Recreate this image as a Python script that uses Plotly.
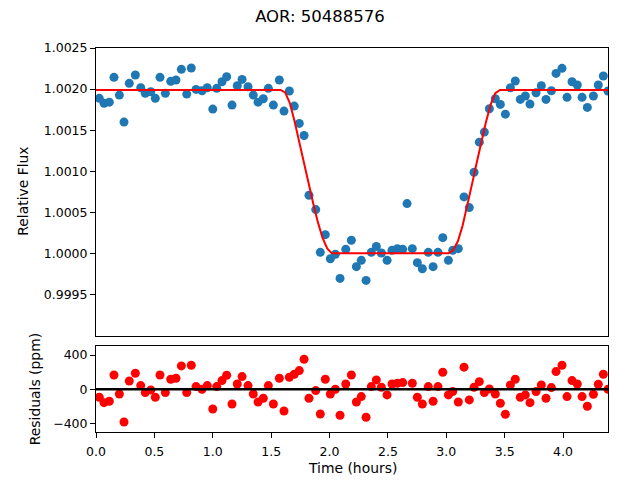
import plotly.graph_objects as go

# ---------------- data ----------------
time_hr = [0.028, 0.069, 0.114, 0.154, 0.200, 0.240, 0.285, 0.337, 0.383, 0.422,
           0.469, 0.508, 0.548, 0.594, 0.640, 0.685, 0.731, 0.777, 0.816, 0.857,
           0.908, 0.953, 1.000, 1.034, 1.079, 1.119, 1.165, 1.210, 1.251, 1.302,
           1.347, 1.388, 1.433, 1.476, 1.519, 1.570, 1.610, 1.656, 1.698, 1.741,
           1.782, 1.824, 1.882, 1.921, 1.964, 2.007, 2.050, 2.090, 2.139, 2.187,
           2.230, 2.272, 2.313, 2.358, 2.401, 2.444, 2.493, 2.535, 2.581, 2.627,
           2.664, 2.709, 2.752, 2.795, 2.846, 2.887, 2.929, 2.970, 3.018, 3.055,
           3.103, 3.152, 3.197, 3.238, 3.283, 3.326, 3.369, 3.420, 3.463, 3.506,
           3.549, 3.591, 3.634, 3.677, 3.717, 3.769, 3.814, 3.854, 3.900, 3.940,
           3.991, 4.034, 4.077, 4.122, 4.163, 4.208, 4.260, 4.302, 4.345, 4.385]

flux = [1.001887, 1.001826, 1.001841, 1.002143, 1.001927, 1.001598, 1.002070, 1.002171, 1.002016, 1.001948,
        1.001967, 1.001887, 1.002143, 1.001948, 1.002094, 1.002110, 1.002240, 1.001939, 1.002256, 1.001996,
        1.001979, 1.002016, 1.001756, 1.002009, 1.002089, 1.002150, 1.001805, 1.002040, 1.002118, 1.002028,
        1.001927, 1.001841, 1.001882, 1.002009, 1.001805, 1.002110, 1.001732, 1.001976, 1.001793, 1.001582,
        1.001435, 1.000707, 1.000533, 1.000012, 1.000228, 0.999935, 0.999988, 0.999695, 1.000049, 1.000159,
        0.999838, 0.999915, 0.999671, 1.000012, 1.000085, 1.000004, 0.999915, 1.000037, 1.000057, 1.000049,
        1.000606, 1.000057, 0.999887, 0.999813, 1.000012, 0.999838, 1.000012, 1.000191, 0.999915, 1.000037,
        1.000057, 1.000687, 1.000557, 1.000988, 1.001354, 1.001476, 1.001760, 1.001882, 1.001813, 1.001695,
        1.002016, 1.002098, 1.001874, 1.001915, 1.001817, 1.001955, 1.002040, 1.001874, 1.001979, 1.002191,
        1.002252, 1.001899, 1.002089, 1.002049, 1.001899, 1.001777, 1.001915, 1.002049, 1.002159, 1.001976]

resid_ppm = [-94, -157, -141, 167, -55, -383, 97, 187, 43, -39,
             -8, -94, 167, -39, 117, 129, 273, -39, 281, 31,
             0, 43, -231, 31, 101, 164, -172, 62, 148, 43,
             -55, -149, -105, 43, -172, 129, -254, 140, 176, 218,
             351, -105, -16, -289, 117, -55, 0, -304, 62, 167,
             -149, -86, -328, 31, 109, 23, -66, 62, 70, 78,
             606, 70, -94, -172, 31, -141, 31, 199, -66, -27,
             -149, 258, -125, 23, 89, -39, 4, -55, -164, -293,
             51, 117, -94, -66, -157, -27, 51, -105, 19, 206,
             281, -86, 101, 62, -86, -199, -58, 58, 176, 0]

model_time = [0.0, 1.58, 1.62, 1.66, 1.70, 1.74, 1.78, 1.82, 1.86, 1.90, 1.94, 1.98, 2.02,
              3.02, 3.06, 3.10, 3.14, 3.18, 3.22, 3.26, 3.30, 3.34, 3.38, 3.42, 3.46, 4.385]
model_flux = [1.00199, 1.00199, 1.00196, 1.00183, 1.00161, 1.00137, 1.00112, 1.00086, 1.00061,
              1.00038, 1.00019, 1.00006, 1.00000, 1.00000, 1.00004, 1.00015, 1.00034, 1.00058,
              1.00084, 1.00110, 1.00136, 1.00160, 1.00181, 1.00195, 1.00199, 1.00199]

x_ticks = [0.0, 0.5, 1.0, 1.5, 2.0, 2.5, 3.0, 3.5, 4.0]
flux_ticks = [0.9995, 1.0000, 1.0005, 1.0010, 1.0015, 1.0020, 1.0025]
resid_ticks = [-400, 0, 400]

x_range = [0.0, 4.385]
flux_range = [0.9990, 1.0025]
resid_range = [-500, 500]

title_text = "AOR: 50488576"
xlabel = "Time (hours)"
ylabel_top = "Relative Flux"
ylabel_bottom = "Residuals (ppm)"

# ---------------- figure ----------------
FONT = "DejaVu Sans"
W, H = 640, 480
ML, MR, MT, MB = 96, 32, 48, 48
PW, PH = W - ML - MR, H - MT - MB
top_dom = [0.2513, 1]
bot_dom = [0, 0.2227]

fig = go.Figure()

fig.add_trace(go.Scatter(x=time_hr, y=flux, mode="markers",
                         marker=dict(color="#1f77b4", size=9, line=dict(width=0)),
                         xaxis="x", yaxis="y", showlegend=False))
fig.add_trace(go.Scatter(x=model_time, y=model_flux, mode="lines",
                         line=dict(color="#ff0000", width=2),
                         xaxis="x", yaxis="y", showlegend=False))
fig.add_trace(go.Scatter(x=time_hr, y=resid_ppm, mode="markers",
                         marker=dict(color="#ff0000", size=9, line=dict(width=0)),
                         xaxis="x2", yaxis="y2", showlegend=False))

fig.add_shape(type="line", xref="x2 domain", yref="y2", x0=0, x1=1, y0=0, y1=0,
              line=dict(color="black", width=2.5), layer="above")

axis_common = dict(showline=True, mirror=True, linecolor="black", linewidth=1,
                   showgrid=False, zeroline=False,
                   tickfont=dict(family=FONT, size=12.5, color="black"),
                   ticklen=5, tickwidth=1, tickcolor="black")

label_font = dict(family=FONT, size=13.9, color="black")
fig.add_annotation(text=ylabel_top, textangle=-90, xref="paper", yref="paper",
                   x=(23 - ML) / PW, y=(top_dom[0] + top_dom[1]) / 2,
                   xanchor="center", yanchor="middle", showarrow=False, font=label_font)
fig.add_annotation(text=ylabel_bottom, textangle=-90, xref="paper", yref="paper",
                   x=(35 - ML) / PW, y=(bot_dom[0] + bot_dom[1]) / 2,
                   xanchor="center", yanchor="middle", showarrow=False, font=label_font)
fig.add_annotation(text=xlabel, xref="paper", yref="paper",
                   x=0.5, y=(H - MB - 468) / PH,
                   xanchor="center", yanchor="middle", showarrow=False, font=label_font)

fig.update_layout(
    width=W, height=H,
    margin=dict(l=ML, r=MR, t=MT, b=MB),
    paper_bgcolor="white", plot_bgcolor="white",
    font=dict(family=FONT, color="black"),
    title=dict(text=title_text, x=0.5, xref="container", xanchor="center",
               y=1 - 16 / H, yref="container", yanchor="middle",
               font=dict(family=FONT, size=16.5, color="black")),
    xaxis=dict(domain=[0, 1], anchor="y", range=x_range, showticklabels=False,
               ticks="", **axis_common),
    yaxis=dict(domain=top_dom, anchor="x", range=flux_range, ticks="outside",
               tickvals=flux_ticks, ticktext=[f"{v:.4f}" for v in flux_ticks],
               **axis_common),
    xaxis2=dict(domain=[0, 1], anchor="y2", range=x_range, ticks="outside",
                tickvals=x_ticks, ticktext=[f"{v:.1f}" for v in x_ticks],
                ticklabelstandoff=3,
                **axis_common),
    yaxis2=dict(domain=bot_dom, anchor="x2", range=resid_range, ticks="outside",
                tickvals=resid_ticks,
                ticktext=[str(v).replace("-", "\u2212") for v in resid_ticks],
                **axis_common),
)

fig.write_html("out.html")
